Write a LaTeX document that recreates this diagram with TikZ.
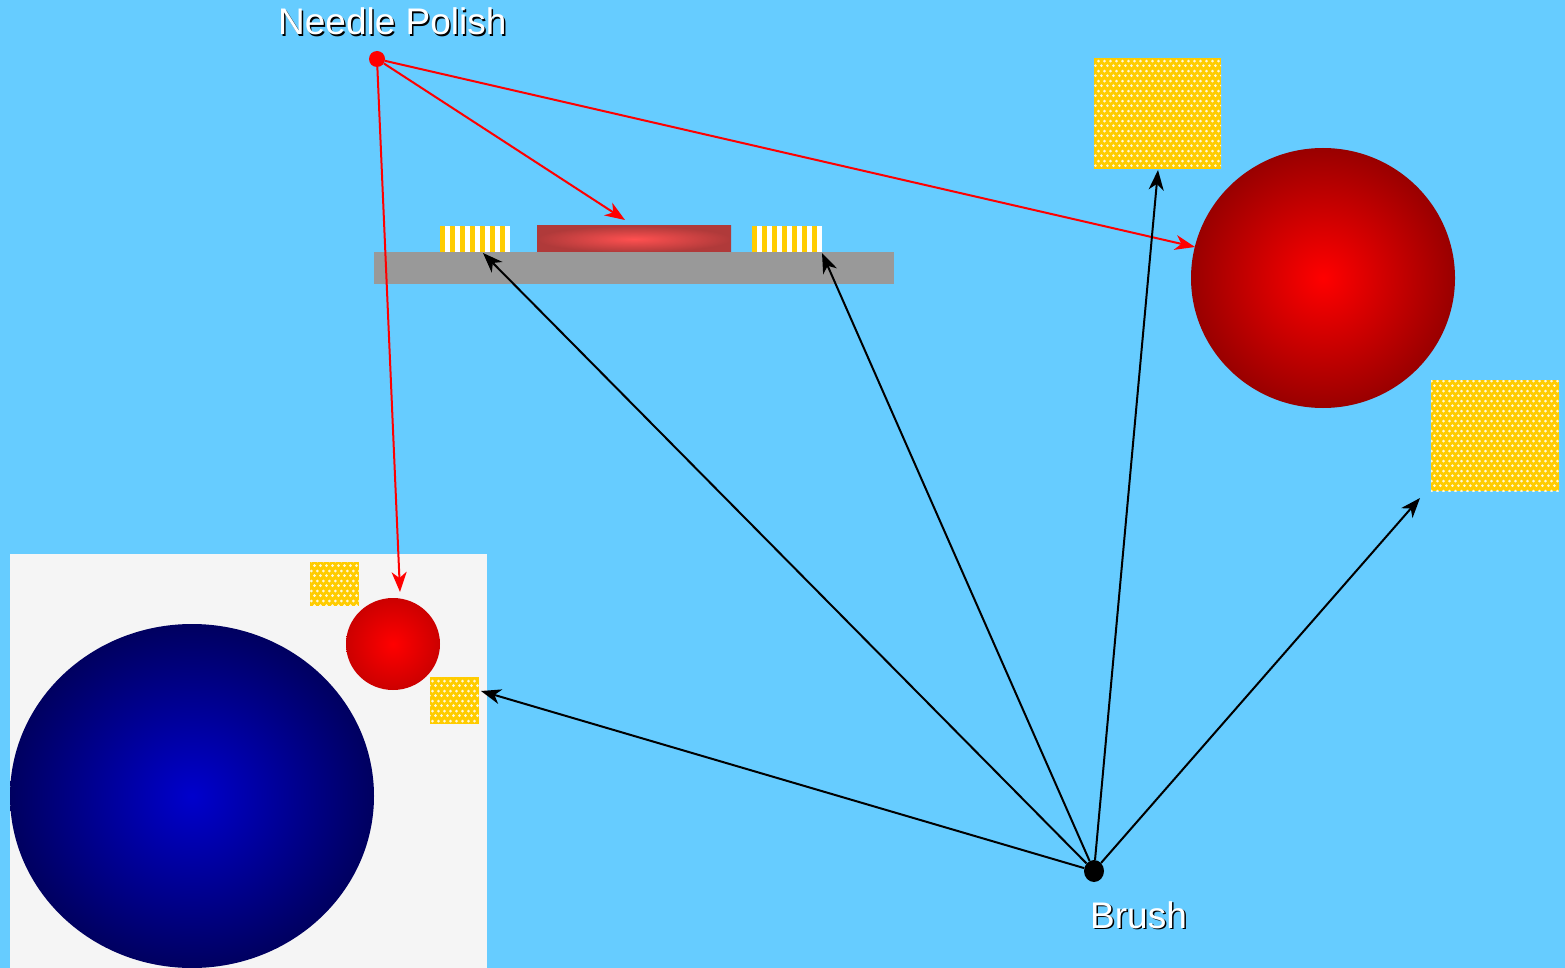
\documentclass[tikz,border=0pt]{standalone}
\usepackage{fontspec}
\setmainfont{Liberation Sans}
\usetikzlibrary{arrows.meta,shadings,patterns,shapes.geometric,calc}
\definecolor{sky}{HTML}{66CCFF}
\definecolor{gold}{HTML}{FFCC00}
\definecolor{panel}{HTML}{F5F5F5}
\definecolor{bargray}{HTML}{999999}
\definecolor{darkred}{HTML}{990000}
\definecolor{midred}{HTML}{CC0000}
\definecolor{bluein}{HTML}{0000CC}
\definecolor{blueout}{HTML}{000060}
\definecolor{padin}{HTML}{FF5050}
\definecolor{padout}{HTML}{B03A3A}
\definecolor{dotcol}{HTML}{FFF8D8}
\pgfdeclarepatternformonly{stagdots}{\pgfqpoint{0pt}{0pt}}{\pgfqpoint{6.4pt}{10pt}}{\pgfqpoint{6.4pt}{10pt}}{%
  \pgfpathcircle{\pgfqpoint{1.6pt}{2.5pt}}{1.6pt}%
  \pgfpathcircle{\pgfqpoint{4.8pt}{7.5pt}}{1.6pt}%
  \pgfusepath{fill}}
\tikzset{
  sq/.style={rectangle, inner sep=0pt, draw=none, fill=gold, postaction={pattern=stagdots, pattern color=dotcol}},
  pad/.style={rectangle, inner sep=0pt, draw=none, fill=white, minimum width=70pt, minimum height=26pt},
  arr/.style={-{Stealth[length=20pt,width=15pt,inset=6pt]}, line width=2pt},
  lbl/.style={inner sep=0pt, anchor=base west, font=\fontsize{37}{44}\selectfont},
}
\begin{document}
\begin{tikzpicture}[x=1pt,y=-1pt]
\useasboundingbox (0,0) rectangle (1565,968);
\fill[sky] (0,0) rectangle (1565,968);
% panel
\node[rectangle, inner sep=0pt, fill=panel, minimum width=477pt, minimum height=414pt] (panel) at (248.5,761) {};
% bar and pads
\node[rectangle, inner sep=0pt, fill=bargray, minimum width=520pt, minimum height=32pt] (bar) at (634,268) {};
\node[pad] (padL) at (475,239) {};
\node[pad] (padR) at (787,239) {};
\foreach \k in {0,...,6}{
  \fill[gold] ($(padL.north west)+(10*\k,0)$) rectangle ++(5,26);
  \fill[gold] ($(padR.north west)+(10*\k,0)$) rectangle ++(5,26);
}
\node[rectangle, inner sep=0pt, minimum width=194pt, minimum height=26pt, shading=radial, inner color=padin, outer color=padout] (chip) at (634,239) {};
% spheres
\node[ellipse, inner sep=0pt, minimum width=264pt, minimum height=260pt, shading=radial, inner color=red, outer color=darkred] (bigred) at (1323,278) {};
\node[ellipse, inner sep=0pt, minimum width=364pt, minimum height=344pt, shading=radial, inner color=bluein, outer color=blueout] (blue) at (192,796) {};
\node[ellipse, inner sep=0pt, minimum width=94pt, minimum height=92pt, shading=radial, inner color=red, outer color=midred] (smallred) at (393,644) {};
% yellow squares
\node[sq, minimum width=127pt, minimum height=111pt] (sqTop) at (1157.5,113.5) {};
\node[sq, minimum width=128pt, minimum height=111pt] (sqRight) at (1495,435.5) {};
\node[sq, minimum width=49pt, minimum height=44pt] (sqS1) at (334.5,584) {};
\node[sq, minimum width=49pt, minimum height=47pt] (sqS2) at (454.5,700.5) {};
% dots and labels
\node[circle, fill=red, inner sep=0pt, minimum size=16pt] (needle) at (377,59) {};
\node[ellipse, fill=black, inner sep=0pt, minimum width=20pt, minimum height=22pt] (brush) at (1094,871) {};
\node[lbl, text=black] at (279.5,36.5) {Needle Polish};
\node[lbl, text=white] (needlelbl) at (278,35) {Needle Polish};
\node[lbl, text=black] at (1091.5,929.5) {Brush};
\node[lbl, text=white] (brushlbl) at (1090,928) {Brush};
% target coordinates
\coordinate (tRedSmall) at (400,592);
\coordinate (tChip) at (625,220);
\coordinate (tBigRed) at (1195,247);
\coordinate (tSqS2) at (481,691);
\coordinate (tPadL) at (483,253);
\coordinate (tPadR) at (822,253);
\coordinate (tSqTop) at (1158,170);
\coordinate (tSqRight) at (1420,498);
% connectors
\draw[arr, red] (needle) -- (tRedSmall);
\draw[arr, red] (needle) -- (tChip);
\draw[arr, red] (needle) -- (tBigRed);
\draw[arr, black] (brush) -- (tSqS2);
\draw[arr, black] (brush) -- (tPadL);
\draw[arr, black] (brush) -- (tPadR);
\draw[arr, black] (brush) -- (tSqTop);
\draw[arr, black] (brush) -- (tSqRight);
\end{tikzpicture}
\end{document}
